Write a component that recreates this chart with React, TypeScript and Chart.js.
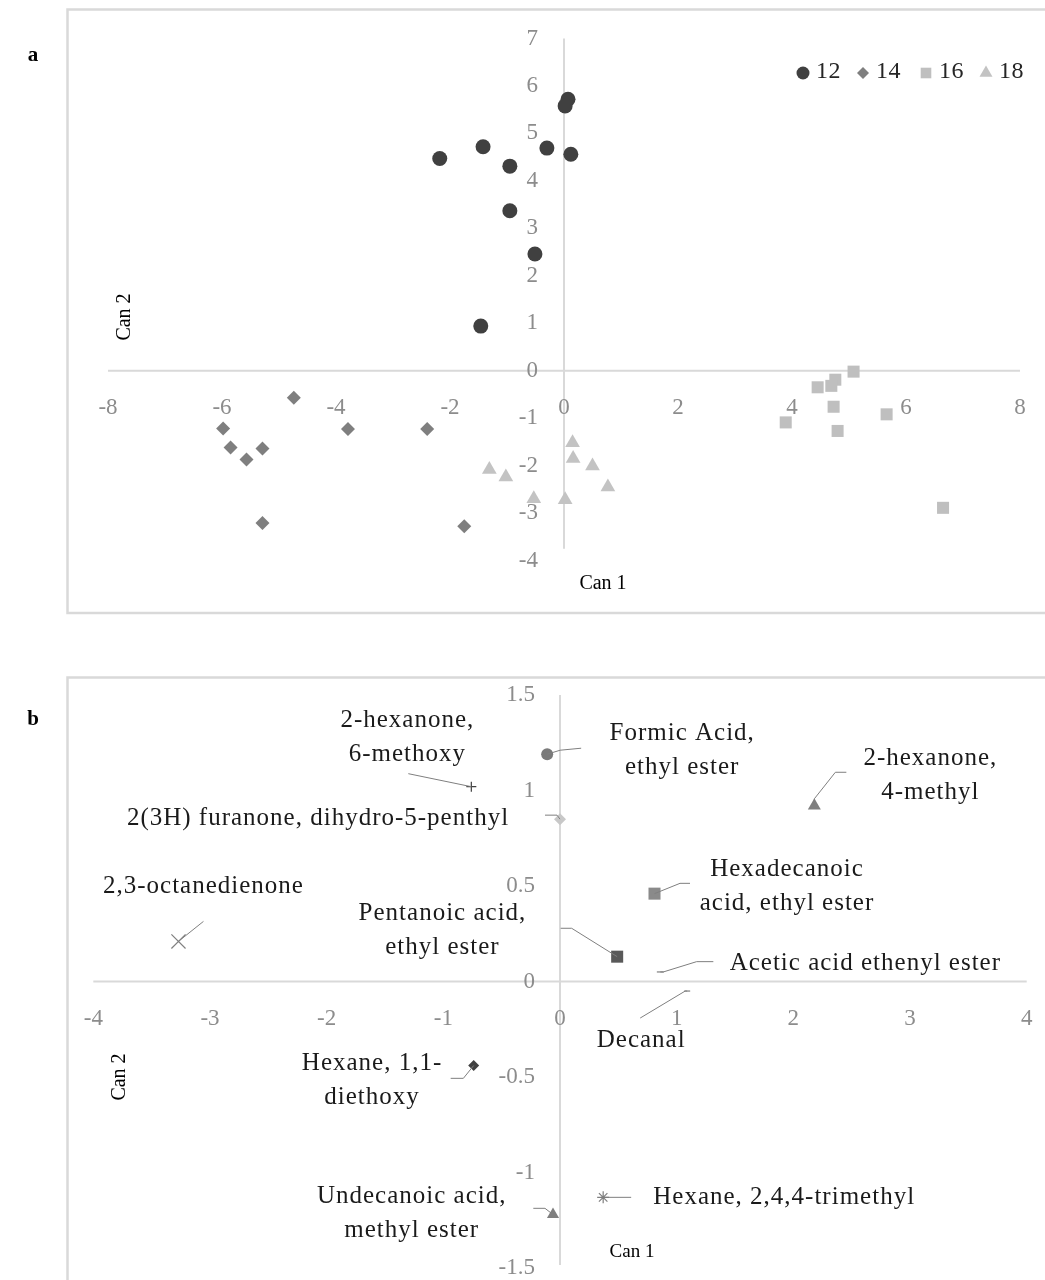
import React, { useEffect, useRef } from 'react';
import { Chart, registerables } from 'chart.js';

Chart.register(...registerables);

// ---------- Panel a data ----------
const groupNames = ['12', '14', '16', '18'];
const group12X = [0.07, 0.02, -2.18, -1.42, -0.95, -0.3, 0.12, -0.95, -0.51, -1.46];
const group12Y = [5.72, 5.58, 4.47, 4.72, 4.31, 4.69, 4.56, 3.37, 2.46, 0.94];
const group14X = [-4.74, -5.98, -5.85, -5.57, -5.29, -3.79, -2.4, -5.29, -1.75];
const group14Y = [-0.57, -1.22, -1.62, -1.87, -1.64, -1.23, -1.23, -3.21, -3.28];
const group16X = [5.08, 4.76, 4.69, 4.45, 4.73, 5.66, 4.8, 3.89, 6.65];
const group16Y = [-0.02, -0.19, -0.32, -0.35, -0.76, -0.92, -1.27, -1.09, -2.89];
const group18X = [0.15, 0.16, 0.5, 0.77, -1.31, -1.02, -0.53, 0.02];
const group18Y = [-1.52, -1.85, -2.01, -2.45, -2.08, -2.24, -2.7, -2.72];
const aXTicks = [-8, -6, -4, -2, 0, 2, 4, 6, 8];
const aYTicks = [7, 6, 5, 4, 3, 2, 1, 0, -1, -2, -3, -4];

// ---------- Panel b data ----------
const compoundLabels = [
  ['Formic Acid,', 'ethyl ester'],
  ['2-hexanone,', '6-methoxy'],
  ['2(3H) furanone, dihydro-5-penthyl'],
  ['2-hexanone,', '4-methyl'],
  ['Hexadecanoic', 'acid, ethyl ester'],
  ['Pentanoic acid,', 'ethyl ester'],
  ['Acetic acid ethenyl ester'],
  ['Decanal'],
  ['2,3-octanedienone'],
  ['Hexane, 1,1-', 'diethoxy'],
  ['Undecanoic acid,', 'methyl ester'],
  ['Hexane, 2,4,4-trimethyl'],
];
const compoundX = [-0.11, -0.76, 0.0, 2.18, 0.81, 0.49, 0.86, 1.09, -3.27, -0.74, -0.06, 0.37];
const compoundY = [1.19, 1.02, 0.85, 0.92, 0.46, 0.13, 0.05, -0.05, 0.21, -0.44, -1.22, -1.13];
const bXTicks = [-4, -3, -2, -1, 0, 1, 2, 3, 4];
const bYTicks = [1.5, 1, 0.5, 0, -0.5, -1, -1.5];

// ---------- styles (not data) ----------
const FONT = "'Liberation Serif', 'Times New Roman', serif";
const TICK_COLOR = '#8c8c8c';
const AXIS_COLOR = '#d9d9d9';
const groupStyles = ['circle', 'rectRot', 'rect', 'triangle'];
const groupColors = ['#404040', '#7f7f7f', '#bfbfbf', '#c3c3c3'];
const groupRadius = [7.5, 7, 8.5, 8.5];
const legendMarkerX = [803, 863, 926, 986];
const legendMarkerR = [6.5, 6, 7.5, 7.5];

const compoundStyles = ['circle', 'cross', 'rectRot', 'triangle', 'rect', 'rect', 'line', 'line', 'crossRot', 'rectRot', 'triangle', 'star'];
const compoundColors = ['#7a7a7a', '#404040', '#c8c8c8', '#7f7f7f', '#8a8a8a', '#595959', '#7f7f7f', '#7f7f7f', '#808080', '#404040', '#7f7f7f', '#7f7f7f'];
const compoundRadius = [6, 5, 6, 7.5, 8.5, 8.5, 3.5, 3, 10, 5.5, 7, 6];
const labelOffsets = [
  [135, -4], [-64, -49], [-242, -1], [116, -30], [132.5, -7], [-174.7, -26.7],
  [205, -8.6], [-46, 49], [25, -55], [-101.6, 15.3], [-141.3, -1.1], [181, 0],
];
const leaderPaths = [
  [[13, -4], [34, -6]],
  [[-63, -13]],
  [[-3, -4], [-15, -4]],
  [[0, -7], [21, -33.5], [32, -33.5]],
  [[25.5, -10.3], [35.5, -10.3]],
  [[-45.5, -28.4], [-56.5, -28.4]],
  [[3, 0], [36.3, -10.3], [53, -10.3]],
  [[-2, 0], [-47, 27]],
  [[25, -20]],
  [[-10.3, 12.8], [-23, 12.8]],
  [[-8, -6.2], [-19.7, -6.2]],
  [[28, 0]],
];

function drawShape(ctx: CanvasRenderingContext2D, style: string, x: number, y: number, r: number, color: string) {
  ctx.save();
  ctx.fillStyle = color;
  ctx.beginPath();
  if (style === 'circle') {
    ctx.arc(x, y, r, 0, Math.PI * 2);
  } else if (style === 'rectRot') {
    ctx.moveTo(x, y - r); ctx.lineTo(x + r, y); ctx.lineTo(x, y + r); ctx.lineTo(x - r, y); ctx.closePath();
  } else if (style === 'rect') {
    const s = r * Math.SQRT1_2;
    ctx.rect(x - s, y - s, 2 * s, 2 * s);
  } else if (style === 'triangle') {
    ctx.moveTo(x, y - r);
    ctx.lineTo(x + r * Math.cos(Math.PI / 6), y + r / 2);
    ctx.lineTo(x - r * Math.cos(Math.PI / 6), y + r / 2);
    ctx.closePath();
  }
  ctx.fill();
  ctx.restore();
}

function drawBox(ctx: CanvasRenderingContext2D, x: number, y: number, w: number, h: number) {
  ctx.save();
  ctx.strokeStyle = AXIS_COLOR;
  ctx.lineWidth = 2.5;
  ctx.strokeRect(x, y, w, h);
  ctx.restore();
}

function drawText(ctx: CanvasRenderingContext2D, text: string, x: number, y: number, font: string, color: string, align: CanvasTextAlign = 'center', rotate = 0) {
  ctx.save();
  ctx.font = font;
  ctx.fillStyle = color;
  ctx.textAlign = align;
  ctx.textBaseline = 'middle';
  ctx.translate(x, y);
  if (rotate) ctx.rotate(rotate);
  ctx.fillText(text, 0, 0);
  ctx.restore();
}

const panelAPlugin = {
  id: 'panelA',
  beforeDatasetsDraw(chart: any) {
    const { ctx } = chart;
    const xs = chart.scales.x;
    const ys = chart.scales.y;
    drawBox(ctx, 67.5, 9.5, 1100, 603.5);
    const x0 = xs.getPixelForValue(0);
    const y0 = ys.getPixelForValue(0);
    ctx.save();
    ctx.strokeStyle = AXIS_COLOR;
    ctx.lineWidth = 2;
    ctx.beginPath();
    ctx.moveTo(xs.getPixelForValue(aXTicks[0]), y0);
    ctx.lineTo(xs.getPixelForValue(aXTicks[aXTicks.length - 1]), y0);
    ctx.stroke();
    ctx.beginPath();
    ctx.moveTo(x0, ys.getPixelForValue(aYTicks[0]));
    ctx.lineTo(x0, ys.getPixelForValue(-3.75));
    ctx.stroke();
    ctx.restore();
    const tf = `23px ${FONT}`;
    aXTicks.forEach((v) => drawText(ctx, String(v), xs.getPixelForValue(v), y0 + 37.5, tf, TICK_COLOR));
    aYTicks.forEach((v) => drawText(ctx, String(v), x0 - 26, ys.getPixelForValue(v), tf, TICK_COLOR, 'right'));
    drawText(ctx, 'a', 33, 56, `bold 21px ${FONT}`, '#000');
    drawText(ctx, 'Can 2', 125, 317, `20px ${FONT}`, '#000', 'center', -Math.PI / 2);
    drawText(ctx, 'Can 1', 603, 584, `20px ${FONT}`, '#000');
  },
  afterDatasetsDraw(chart: any) {
    const { ctx } = chart;
    groupNames.forEach((name, i) => {
      const mx = legendMarkerX[i];
      drawShape(ctx, groupStyles[i], mx, 73, legendMarkerR[i], groupColors[i]);
      ctx.save();
      (ctx as any).letterSpacing = '0.5px';
      drawText(ctx, name, mx + 13, 72, `24px ${FONT}`, '#262626', 'left');
      ctx.restore();
    });
  },
};

const panelBPlugin = {
  id: 'panelB',
  beforeDatasetsDraw(chart: any) {
    const { ctx } = chart;
    const xs = chart.scales.x;
    const ys = chart.scales.y;
    drawBox(ctx, 67.5, 32.5, 1100, 700);
    const x0 = xs.getPixelForValue(0);
    const y0 = ys.getPixelForValue(0);
    ctx.save();
    ctx.strokeStyle = AXIS_COLOR;
    ctx.lineWidth = 2;
    ctx.beginPath();
    ctx.moveTo(xs.getPixelForValue(bXTicks[0]), y0);
    ctx.lineTo(xs.getPixelForValue(bXTicks[bXTicks.length - 1]), y0);
    ctx.stroke();
    ctx.beginPath();
    ctx.moveTo(x0, ys.getPixelForValue(bYTicks[0]));
    ctx.lineTo(x0, ys.getPixelForValue(bYTicks[bYTicks.length - 1]) - 3);
    ctx.stroke();
    ctx.restore();
    const tf = `23px ${FONT}`;
    bXTicks.forEach((v) => drawText(ctx, String(v), xs.getPixelForValue(v), y0 + 37, tf, TICK_COLOR));
    bYTicks.forEach((v) => drawText(ctx, String(v), x0 - 25, ys.getPixelForValue(v), tf, TICK_COLOR, 'right'));
    drawText(ctx, 'b', 33, 75, `bold 21px ${FONT}`, '#000');
    drawText(ctx, 'Can 2', 120, 432, `20px ${FONT}`, '#000', 'center', -Math.PI / 2);
    drawText(ctx, 'Can 1', 632, 607, `19px ${FONT}`, '#000');
  },
  afterDatasetsDraw(chart: any) {
    const { ctx } = chart;
    const meta = chart.getDatasetMeta(0);
    meta.data.forEach((el: any, i: number) => {
      const px = el.x;
      const py = el.y;
      ctx.save();
      ctx.strokeStyle = '#7f7f7f';
      ctx.lineWidth = 1;
      ctx.beginPath();
      ctx.moveTo(px, py);
      leaderPaths[i].forEach(([dx, dy]) => ctx.lineTo(px + dx, py + dy));
      ctx.stroke();
      ctx.restore();
      const lines = compoundLabels[i];
      const [ox, oy] = labelOffsets[i];
      lines.forEach((ln, k) => {
        const ly = py + oy + (k - (lines.length - 1) / 2) * 34;
        ctx.save();
        (ctx as any).letterSpacing = '1px';
        drawText(ctx, ln, px + ox, ly, `25px ${FONT}`, '#1a1a1a');
        ctx.restore();
      });
    });
  },
};

function makeScatterOptions(xMin: number, xMax: number, yMin: number, yMax: number, padding: any) {
  return {
    responsive: false,
    animation: false as const,
    events: [] as any[],
    layout: { padding },
    plugins: { legend: { display: false }, tooltip: { enabled: false }, title: { display: false } },
    scales: {
      x: { type: 'linear' as const, min: xMin, max: xMax, display: false },
      y: { type: 'linear' as const, min: yMin, max: yMax, display: false },
    },
  };
}

export default function App() {
  const refA = useRef<HTMLCanvasElement | null>(null);
  const refB = useRef<HTMLCanvasElement | null>(null);

  useEffect(() => {
    const groupsX = [group12X, group14X, group16X, group18X];
    const groupsY = [group12Y, group14Y, group16Y, group18Y];
    const chartA = new Chart(refA.current as HTMLCanvasElement, {
      type: 'scatter',
      data: {
        datasets: groupNames.map((name, i) => ({
          label: name,
          data: groupsX[i].map((x, j) => ({ x, y: groupsY[i][j] })),
          pointStyle: groupStyles[i] as any,
          pointRadius: groupRadius[i],
          backgroundColor: groupColors[i],
          borderColor: groupColors[i],
          borderWidth: 0,
          clip: false as any,
        })),
      },
      options: makeScatterOptions(aXTicks[0], aXTicks[aXTicks.length - 1], aYTicks[aYTicks.length - 1], aYTicks[0], { left: 108, right: 25, top: 38.5, bottom: 84.5 }) as any,
      plugins: [panelAPlugin],
    });

    const chartB = new Chart(refB.current as HTMLCanvasElement, {
      type: 'scatter',
      data: {
        datasets: [
          {
            label: 'compounds',
            data: compoundX.map((x, j) => ({ x, y: compoundY[j] })),
            pointStyle: compoundStyles as any,
            pointRadius: compoundRadius,
            backgroundColor: compoundColors,
            borderColor: compoundColors,
            borderWidth: compoundStyles.map((s) => (['cross', 'crossRot', 'star', 'line'].includes(s) ? 1.2 : 0)),
            clip: false as any,
          },
        ],
      },
      options: makeScatterOptions(bXTicks[0], bXTicks[bXTicks.length - 1], bYTicks[bYTicks.length - 1], bYTicks[0], { left: 93.3, right: 18.3, top: 50, bottom: 12 }) as any,
      plugins: [panelBPlugin],
    });

    return () => {
      chartA.destroy();
      chartB.destroy();
    };
  }, []);

  return (
    <div style={{ position: 'fixed', left: 0, top: 0, width: 1045, height: 1280, overflow: 'hidden', background: '#fff' }}>
      <canvas ref={refA} width={1045} height={645} style={{ position: 'absolute', left: 0, top: 0, width: 1045, height: 645 }} />
      <canvas ref={refB} width={1045} height={635} style={{ position: 'absolute', left: 0, top: 645, width: 1045, height: 635 }} />
    </div>
  );
}
